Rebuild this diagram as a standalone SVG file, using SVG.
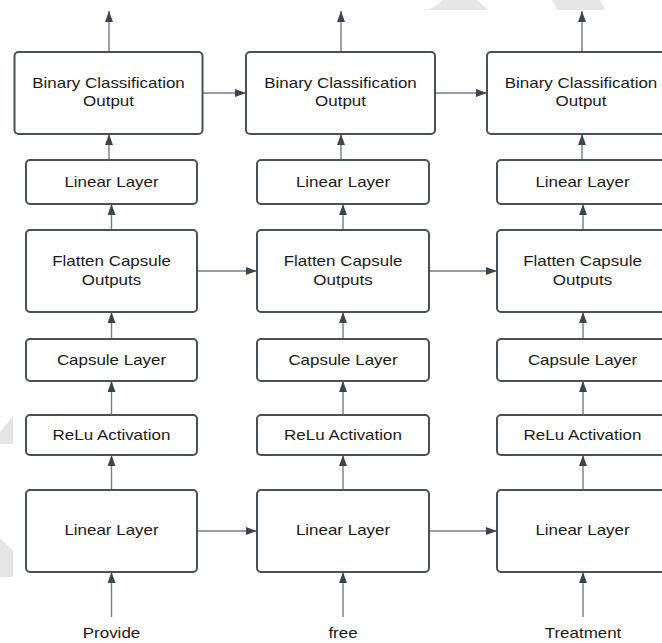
<svg xmlns="http://www.w3.org/2000/svg" width="662" height="643" viewBox="0 0 662 643">
<defs>
<marker id="ah" markerUnits="userSpaceOnUse" markerWidth="12" markerHeight="9" refX="11" refY="4" orient="auto">
<path d="M0,0 L11,4 L0,8 Z" fill="#3d4450"/>
</marker>
<style>
.box{fill:#ffffff;stroke:#4b5058;stroke-width:2}
.lbl{font-family:"Liberation Sans",Arial,sans-serif;font-size:15px;fill:#1a1a1a;text-anchor:middle}
.c{stroke:#777c84;stroke-width:1.4;fill:none;marker-end:url(#ah)}
.wm{fill:#e6e6e6}
</style>
</defs>
<rect width="662" height="643" fill="#ffffff"/>
<g id="watermark">
<path class="wm" d="M442,0 L477,0 L488,10 L425,10 Q436,8 442,0 Z"/>
<path class="wm" d="M552,0 L600,0 L605,10 L557,10 Z"/>
<path class="wm" d="M13,416 L13,444 L0,444 L0,432 Z"/>
<path class="wm" d="M0,538 L13,551 L13,577 L0,577 Z"/>
</g>
<g id="connectors">
<line class="c" x1="109" y1="52" x2="109" y2="11"/>
<line class="c" x1="341" y1="52" x2="341" y2="11"/>
<line class="c" x1="582" y1="52" x2="582" y2="11"/>
<line class="c" x1="109" y1="160" x2="109" y2="134"/>
<line class="c" x1="341" y1="160" x2="341" y2="134"/>
<line class="c" x1="582" y1="160" x2="582" y2="134"/>
<line class="c" x1="111.5" y1="230" x2="111.5" y2="204"/>
<line class="c" x1="343" y1="230" x2="343" y2="204"/>
<line class="c" x1="583" y1="230" x2="583" y2="204"/>
<line class="c" x1="111.5" y1="339" x2="111.5" y2="312"/>
<line class="c" x1="343" y1="339" x2="343" y2="312"/>
<line class="c" x1="583" y1="339" x2="583" y2="312"/>
<line class="c" x1="111.5" y1="415" x2="111.5" y2="381"/>
<line class="c" x1="343" y1="415" x2="343" y2="381"/>
<line class="c" x1="583" y1="415" x2="583" y2="381"/>
<line class="c" x1="111.5" y1="490" x2="111.5" y2="455"/>
<line class="c" x1="343" y1="490" x2="343" y2="455"/>
<line class="c" x1="583" y1="490" x2="583" y2="455"/>
<line class="c" x1="111.5" y1="617" x2="111.5" y2="572"/>
<line class="c" x1="343" y1="617" x2="343" y2="572"/>
<line class="c" x1="583" y1="617" x2="583" y2="572"/>
<line class="c" x1="203" y1="93" x2="246" y2="93"/>
<line class="c" x1="435" y1="93" x2="487" y2="93"/>
<line class="c" x1="197" y1="271" x2="257" y2="271"/>
<line class="c" x1="429" y1="271" x2="497" y2="271"/>
<line class="c" x1="197" y1="531" x2="257" y2="531"/>
<line class="c" x1="429" y1="531" x2="497" y2="531"/>
</g>
<g id="bco1"><rect class="box" x="14.5" y="52" width="188" height="82" rx="4"/><text class="lbl" transform="translate(108.5 88) scale(1.13 1)">Binary Classification</text><text class="lbl" transform="translate(108.5 106) scale(1.13 1)">Output</text></g>
<g id="bco2"><rect class="box" x="246" y="52" width="189" height="82" rx="4"/><text class="lbl" transform="translate(340.5 88) scale(1.13 1)">Binary Classification</text><text class="lbl" transform="translate(340.5 106) scale(1.13 1)">Output</text></g>
<g id="bco3"><rect class="box" x="487" y="52" width="188" height="82" rx="4"/><text class="lbl" transform="translate(581 88) scale(1.13 1)">Binary Classification</text><text class="lbl" transform="translate(581 106) scale(1.13 1)">Output</text></g>
<g id="lin1"><rect class="box" x="26" y="160" width="171" height="44" rx="4"/><text class="lbl" transform="translate(111.5 187) scale(1.13 1)">Linear Layer</text></g>
<g id="lin2"><rect class="box" x="257" y="160" width="172" height="44" rx="4"/><text class="lbl" transform="translate(343 187) scale(1.13 1)">Linear Layer</text></g>
<g id="lin3"><rect class="box" x="497" y="160" width="171" height="44" rx="4"/><text class="lbl" transform="translate(582.5 187) scale(1.13 1)">Linear Layer</text></g>
<g id="flat1"><rect class="box" x="26" y="230" width="171" height="82" rx="4"/><text class="lbl" transform="translate(111.5 266) scale(1.13 1)">Flatten Capsule</text><text class="lbl" transform="translate(111.5 285) scale(1.13 1)">Outputs</text></g>
<g id="flat2"><rect class="box" x="257" y="230" width="172" height="82" rx="4"/><text class="lbl" transform="translate(343 266) scale(1.13 1)">Flatten Capsule</text><text class="lbl" transform="translate(343 285) scale(1.13 1)">Outputs</text></g>
<g id="flat3"><rect class="box" x="497" y="230" width="171" height="82" rx="4"/><text class="lbl" transform="translate(582.5 266) scale(1.13 1)">Flatten Capsule</text><text class="lbl" transform="translate(582.5 285) scale(1.13 1)">Outputs</text></g>
<g id="cap1"><rect class="box" x="26" y="339" width="171" height="42" rx="4"/><text class="lbl" transform="translate(111.5 365) scale(1.13 1)">Capsule Layer</text></g>
<g id="cap2"><rect class="box" x="257" y="339" width="172" height="42" rx="4"/><text class="lbl" transform="translate(343 365) scale(1.13 1)">Capsule Layer</text></g>
<g id="cap3"><rect class="box" x="497" y="339" width="171" height="42" rx="4"/><text class="lbl" transform="translate(582.5 365) scale(1.13 1)">Capsule Layer</text></g>
<g id="relu1"><rect class="box" x="26" y="415" width="171" height="40" rx="4"/><text class="lbl" transform="translate(111.5 440) scale(1.13 1)">ReLu Activation</text></g>
<g id="relu2"><rect class="box" x="257" y="415" width="172" height="40" rx="4"/><text class="lbl" transform="translate(343 440) scale(1.13 1)">ReLu Activation</text></g>
<g id="relu3"><rect class="box" x="497" y="415" width="171" height="40" rx="4"/><text class="lbl" transform="translate(582.5 440) scale(1.13 1)">ReLu Activation</text></g>
<g id="linb1"><rect class="box" x="26" y="490" width="171" height="82" rx="4"/><text class="lbl" transform="translate(111.5 535) scale(1.13 1)">Linear Layer</text></g>
<g id="linb2"><rect class="box" x="257" y="490" width="172" height="82" rx="4"/><text class="lbl" transform="translate(343 535) scale(1.13 1)">Linear Layer</text></g>
<g id="linb3"><rect class="box" x="497" y="490" width="171" height="82" rx="4"/><text class="lbl" transform="translate(582.5 535) scale(1.13 1)">Linear Layer</text></g>
<g id="in1"><text class="lbl" transform="translate(111.5 638) scale(1.13 1)">Provide</text></g>
<g id="in2"><text class="lbl" transform="translate(343 638) scale(1.13 1)">free</text></g>
<g id="in3"><text class="lbl" transform="translate(583 638) scale(1.13 1)">Treatment</text></g>
</svg>
